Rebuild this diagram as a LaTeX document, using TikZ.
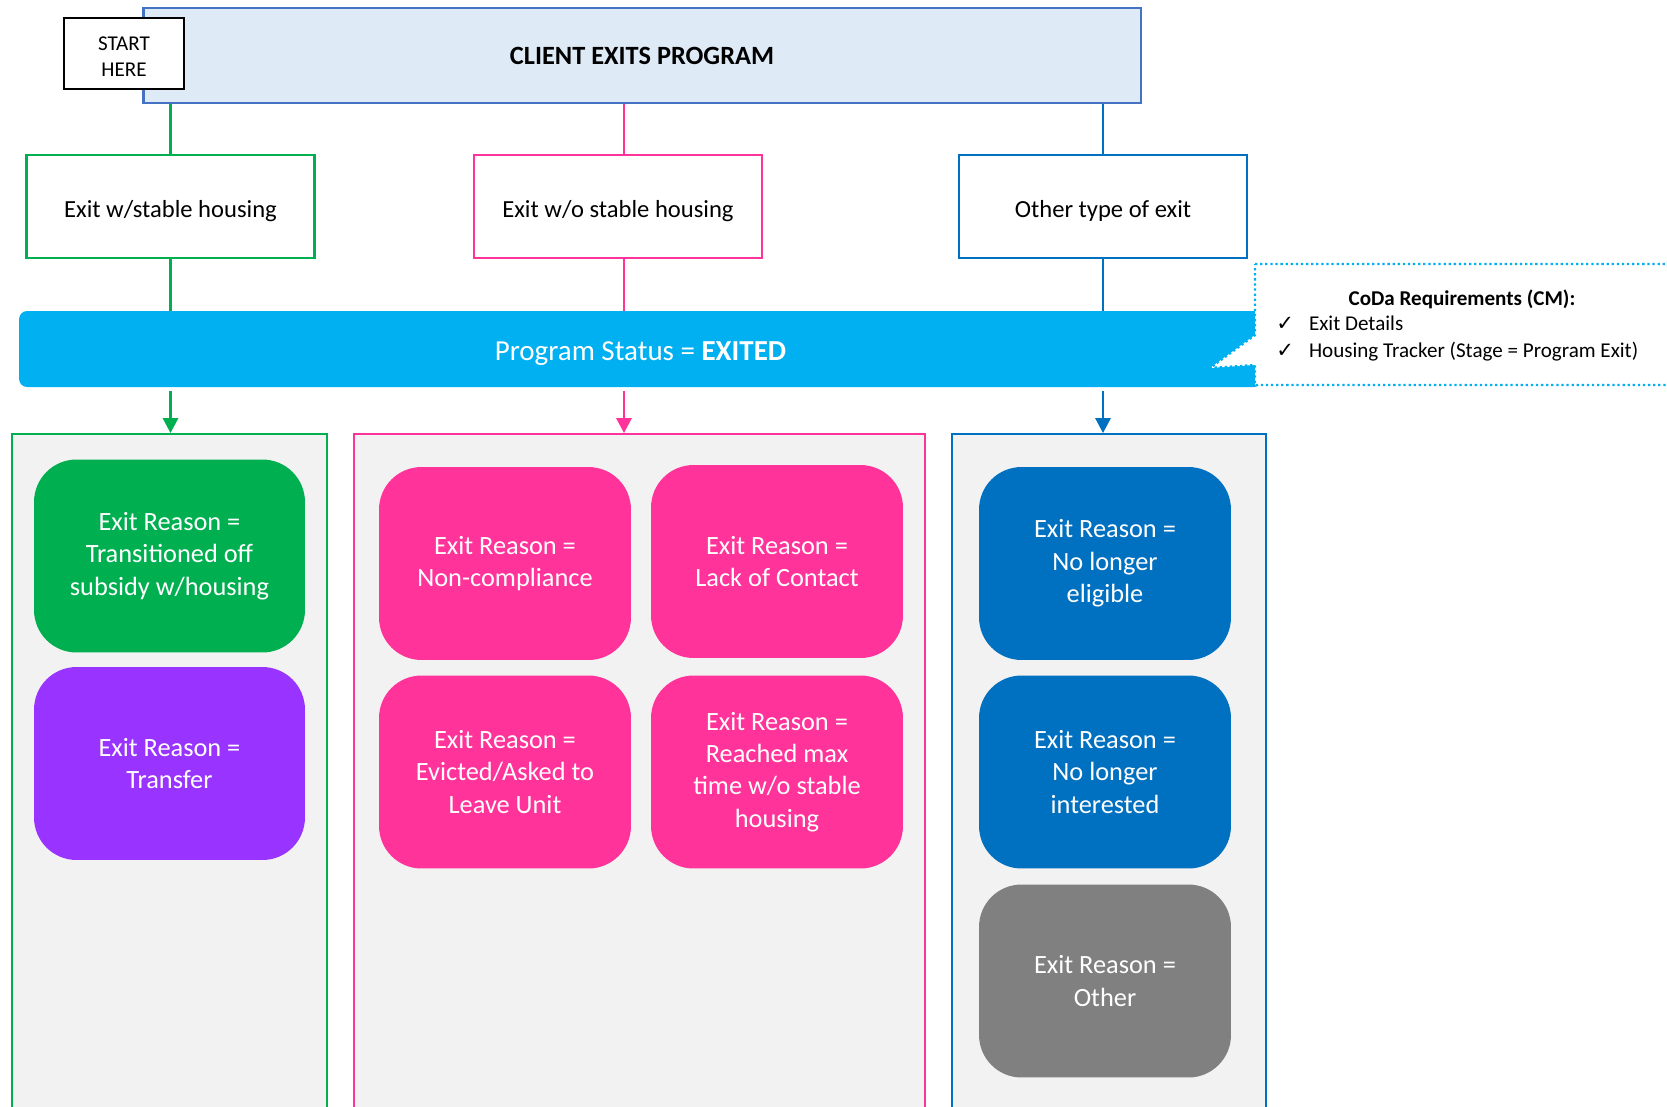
\documentclass[tikz,border=0pt]{standalone}
\usepackage{fontspec}
\setmainfont{Carlito}
\newfontfamily\checkfont{DejaVu Sans}
\usetikzlibrary{arrows.meta, positioning, calc}

\definecolor{exgreen}{HTML}{00B050}
\definecolor{expink}{HTML}{FF3399}
\definecolor{exblue}{HTML}{0070C0}
\definecolor{expurple}{HTML}{9933FF}
\definecolor{exgrey}{HTML}{808080}
\definecolor{excyan}{HTML}{00B0F0}
\definecolor{titlefill}{HTML}{DEEBF7}
\definecolor{titledraw}{HTML}{4472C4}
\definecolor{panelfill}{HTML}{F2F2F2}

\tikzset{
  branch/.style={draw=#1, line width=1.6pt, fill=white, minimum width=5.76cm, minimum height=2.06cm, text height=0.53cm, text depth=0.1cm, font=\fontsize{14}{17}\selectfont},
  panel/.style={draw=#1, line width=1.1pt, fill=panelfill, minimum height=14.12cm},
  reason/.style={fill=#1, rounded corners=0.85cm, text=white, align=center, minimum width=5.04cm, minimum height=3.86cm, font=\fontsize{15}{18.4}\selectfont},
  link/.style={draw=#1, line width=1.6pt},
  flow/.style={link=#1, -{Triangle[length=0.3cm, width=0.3cm]}, shorten <=2pt},
}

\begin{document}
\begin{tikzpicture}[x=0.02cm, y=-0.02cm]
\fill[white] (0,0) rectangle (1667,1106);
\useasboundingbox (0,0) rectangle (1667,1106);

% header
\node[draw=titledraw, fill=titlefill, line width=1.6pt, minimum width=19.96cm, minimum height=1.9cm, font=\fontsize{15}{18}\selectfont\bfseries] (title) at (642,55.5) {CLIENT EXITS PROGRAM};
\node[draw, fill=white, line width=1.6pt, minimum width=2.4cm, minimum height=1.42cm, align=center, text height=0.91cm, text depth=0cm, font=\fontsize{12}{14.5}\selectfont] (start) at (124,53.5) {START\\HERE};

% three kinds of exit
\node[branch=exgreen] (exstable) at (170.5,206.5) {Exit w/stable housing};
\node[branch=expink] (exnostable) at (618,206.5) {Exit w/o stable housing};
\node[branch=exblue] (exother) at (1103,206.5) {Other type of exit};
\coordinate (pinkx) at (624,0);

\draw[link=exgreen] (title.south -| exstable) -- (exstable.north);
\draw[link=expink] (title.south -| pinkx) -- (exnostable.north -| pinkx);
\draw[link=exblue] (title.south -| exother) -- (exother.north);

% status bar
\node[fill=excyan, rounded corners=0.16cm, minimum width=24.86cm, minimum height=1.52cm, text height=0.58cm, text depth=0.12cm, text=white, font=\fontsize{16.5}{20}\selectfont] (status) at (640.5,349) {Program Status = \textbf{EXITED}};

\draw[link=exgreen] (exstable.south) -- (status.north -| exstable);
\draw[link=expink] (exnostable.south -| pinkx) -- (status.north -| pinkx);
\draw[link=exblue] (exother.south) -- (status.north -| exother);

% CoDa callout
\draw[excyan, line width=1.3pt, dash pattern=on 1.3pt off 1.6pt, fill=white]
  (1255,264) -- (1680,264) -- (1680,385) -- (1255,385) -- (1255,365) -- (1210,368) -- (1255,335) -- cycle;
\node[font=\fontsize{12}{14.5}\selectfont\bfseries] (coda) at (1462,299) {CoDa Requirements (CM):};
\node[anchor=west, align=left, inner sep=0pt, font=\fontsize{12}{15}\selectfont] (codalist) at (1276,338.5)
  {{\checkfont ✓}\hspace{0.3cm}Exit Details\\ {\checkfont ✓}\hspace{0.3cm}Housing Tracker (Stage = Program Exit)};

% panels, open at the bottom
\node[panel=exgreen, minimum width=6.3cm] (pstable) at (169.5,787) {};
\node[panel=expink, minimum width=11.42cm] (pnostable) at (639.5,787) {};
\node[panel=exblue, minimum width=6.28cm] (pother) at (1109,787) {};

\draw[flow=exgreen] (status.south -| exstable) -- (exstable |- pstable.north);
\draw[flow=expink] (status.south -| pinkx) -- (pinkx |- pnostable.north);
\draw[flow=exblue] (status.south -| exother) -- (exother |- pother.north);

% exit reasons
\node[reason=exgreen, minimum width=5.42cm] (rtransoff) at (169.5,556) {Exit Reason =\\Transitioned off\\subsidy w/housing};
\node[reason=expurple, minimum width=5.42cm] (rtransfer) at (169.5,763.5) {Exit Reason =\\Transfer};

\node[reason=expink] (rnoncomp) at (505,563.5) {Exit Reason =\\Non-compliance};
\node[reason=expink] (rcontact) at (777,561.5) {Exit Reason =\\Lack of Contact};
\node[reason=expink] (revicted) at (505,772) {Exit Reason =\\Evicted/Asked to\\Leave Unit};
\node[reason=expink] (rmaxtime) at (777,772) {Exit Reason =\\Reached max\\time w/o stable\\housing};

\node[reason=exblue] (religible) at (1105,563.5) {Exit Reason =\\No longer\\eligible};
\node[reason=exblue] (rinterest) at (1105,772) {Exit Reason =\\No longer\\interested};
\node[reason=exgrey] (rother) at (1105,981) {Exit Reason =\\Other};

\end{tikzpicture}
\end{document}
